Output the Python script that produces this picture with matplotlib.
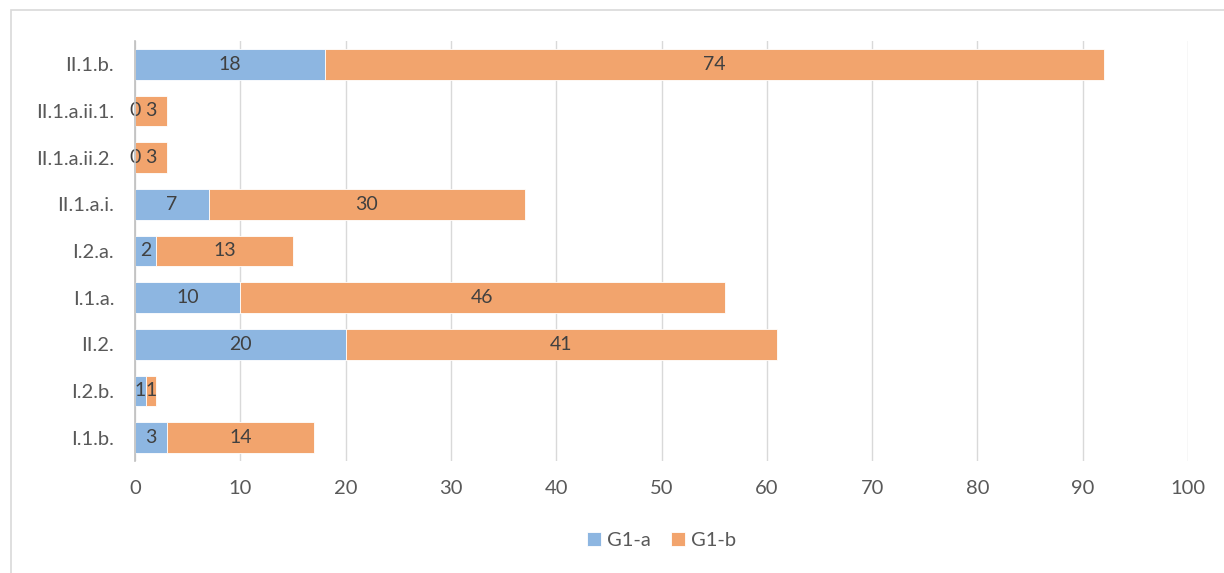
import numpy as np
import matplotlib.pyplot as plt
from matplotlib.patches import Rectangle

# données (de bas en haut)
categories = ["I.1.b.", "I.2.b.", "II.2.", "I.1.a.", "I.2.a.", "II.1.a.i.",
              "II.1.a.ii.2.", "II.1.a.ii.1.", "II.1.b."]
g1_a = [3, 1, 20, 10, 2, 7, 0, 0, 18]
g1_b = [14, 1, 41, 46, 13, 30, 3, 3, 74]
xticks = [0, 10, 20, 30, 40, 50, 60, 70, 80, 90, 100]

plt.rcParams['font.family'] = ['Lato', 'DejaVu Sans']
gris = "#595959"

fig = plt.figure(figsize=(12.24, 5.73), dpi=100)
# cadre du graphique (coupé à droite et en bas)
fig.patches.append(Rectangle((11/1224, -0.1), 1.2, 1 - 10/573 + 0.1,
                             transform=fig.transFigure, fill=False,
                             edgecolor="#D9D9D9", linewidth=1.2))
ax = fig.add_axes([135/1224, 1 - 461/573, 1053/1224, 420/573])

y = np.arange(len(categories))
ba = ax.barh(y, g1_a, height=0.66, color="#8DB6E1", edgecolor="white",
             linewidth=0.6, label="G1-a", zorder=3)
bb = ax.barh(y, g1_b, left=g1_a, height=0.66, color="#F2A46D", edgecolor="white",
             linewidth=0.6, label="G1-b", zorder=3)
ax.bar_label(ba, label_type="center", color="#404040", fontsize=14)
ax.bar_label(bb, label_type="center", color="#404040", fontsize=14)

ax.set_xlim(0, 100)
ax.set_ylim(-0.5, 8.5)
ax.set_xticks(xticks)
ax.set_yticks(y)
ax.set_yticklabels(categories)
ax.tick_params(axis="both", length=0, colors=gris, labelsize=14.5)
ax.tick_params(axis="y", pad=15)
ax.tick_params(axis="x", pad=14)
ax.grid(axis="x", color="#D9D9D9", linewidth=1, zorder=0)
for s in ["top", "right", "bottom"]:
    ax.spines[s].set_visible(False)
ax.spines["left"].set_color("#BFBFBF")
ax.spines["left"].set_linewidth(1.2)
ax.spines["left"].set_zorder(4)

ax.legend(loc="center", bbox_to_anchor=(0.5, -0.19), ncol=2, frameon=False,
          handlelength=0.7, handleheight=0.7, handletextpad=0.3, columnspacing=1.0,
          labelcolor=gris, fontsize=14.5)

plt.savefig("out.png", dpi=100)
